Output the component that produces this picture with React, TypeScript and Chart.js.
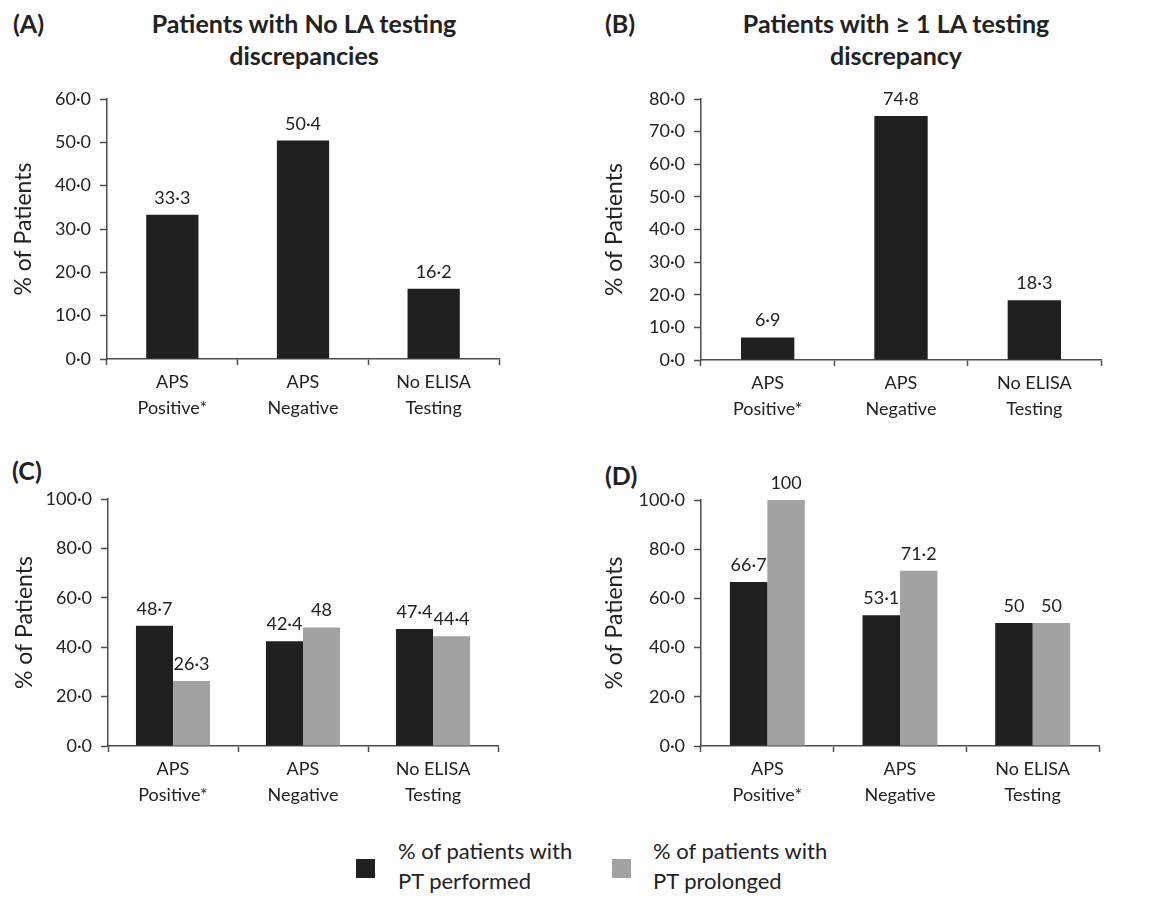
import React, { useEffect, useRef } from "react";
import { Chart, registerables } from "chart.js";

Chart.register(...registerables);

// ---------- data ----------
const categories: string[][] = [
  ["APS", "Positive*"],
  ["APS", "Negative"],
  ["No ELISA", "Testing"],
];
const panelAValues = [33.3, 50.4, 16.2];
const panelBValues = [6.9, 74.8, 18.3];
const panelCPerformed = [48.7, 42.4, 47.4];
const panelCProlonged = [26.3, 48, 44.4];
const panelDPerformed = [66.7, 53.1, 50];
const panelDProlonged = [100, 71.2, 50];
const seriesNames = ["% of patients with PT performed", "% of patients with PT prolonged"];
const legendLines = [
  ["% of patients with", "PT performed"],
  ["% of patients with", "PT prolonged"],
];
const titleA = ["Patients with No LA testing", "discrepancies"];
const titleB = ["Patients with \u2265 1 LA testing", "discrepancy"];
const yTitle = "% of Patients";
const yMaxA = 60, yStepA = 10;
const yMaxB = 80, yStepB = 10;
const yMaxCD = 100, yStepCD = 20;

// ---------- styles ----------
const FONT = "Lato, 'Open Sans', 'DejaVu Sans', sans-serif";
const TEXT = "#222222";
const AXIS = "#4d4d4d";
const BLACK = "#202020";
const GRAY = "#a2a2a2";
const Y_TITLE_SIZE = 23;

const tickText = (v: number) => v.toFixed(1).replace(".", "\u00b7");
const valueText = (v: number) => (Number.isInteger(v) ? String(v) : v.toFixed(1).replace(".", "\u00b7"));

const valueLabels = {
  id: "valueLabels",
  afterDatasetsDraw(chart: any) {
    const ctx = chart.ctx;
    ctx.save();
    ctx.font = `18px ${FONT}`;
    ctx.fillStyle = TEXT;
    ctx.textAlign = "center";
    ctx.textBaseline = "alphabetic";
    chart.data.datasets.forEach((ds: any, i: number) => {
      const meta = chart.getDatasetMeta(i);
      meta.data.forEach((el: any, j: number) => {
        ctx.fillText(valueText(ds.data[j] as number), el.x, el.y - 11);
      });
    });
    ctx.restore();
  },
};

type Box = { left: number; top: number; right: number; bottom: number };
type DS = { label: string; data: number[]; color: string };

const Y_W = 100;
const PAD_TOP = 30;
const PAD_RIGHT = 12;
const X_H = 72;

function Panel(props: { box: Box; datasets: DS[]; yMax: number; yStep: number; yTitleX: number; catPct: number }) {
  const ref = useRef<HTMLCanvasElement | null>(null);
  const { box, datasets, yMax, yStep, yTitleX, catPct } = props;
  const cLeft = box.left - Y_W;
  const cTop = box.top - PAD_TOP;
  const cW = box.right + PAD_RIGHT - cLeft;
  const cH = box.bottom + X_H - cTop;
  const titlePad = Math.max(0, yTitleX - cLeft - (Y_TITLE_SIZE * 1.2) / 2);

  useEffect(() => {
    if (!ref.current) return;
    const chart = new Chart(ref.current, {
      type: "bar",
      data: {
        labels: categories,
        datasets: datasets.map((d) => ({
          label: d.label,
          data: d.data,
          backgroundColor: d.color,
          borderWidth: 0,
          categoryPercentage: catPct,
          barPercentage: 1,
        })),
      },
      options: {
        animation: false,
        responsive: false,
        devicePixelRatio: 1,
        layout: { padding: { top: PAD_TOP, right: PAD_RIGHT, left: 0, bottom: 0 } },
        plugins: { legend: { display: false }, tooltip: { enabled: false }, title: { display: false } },
        scales: {
          x: {
            offset: true,
            grid: {
              display: true,
              offset: true,
              drawOnChartArea: false,
              drawTicks: true,
              tickLength: 6,
              tickColor: AXIS,
              tickWidth: 1.5,
            },
            border: { display: true, color: AXIS, width: 1.5 },
            ticks: {
              color: TEXT,
              font: { family: FONT, size: 18, lineHeight: 1.45 },
              padding: 4,
              maxRotation: 0,
              autoSkip: false,
            },
            afterFit: (s: any) => {
              s.height = X_H;
            },
          },
          y: {
            min: 0,
            max: yMax,
            grid: {
              display: true,
              drawOnChartArea: false,
              drawTicks: true,
              tickLength: 7,
              tickColor: AXIS,
              tickWidth: 1.5,
            },
            border: { display: true, color: AXIS, width: 1.5 },
            ticks: {
              stepSize: yStep,
              color: TEXT,
              font: { family: FONT, size: 18 },
              padding: 9,
              callback: (v: any) => tickText(Number(v)),
            },
            title: {
              display: true,
              text: yTitle,
              color: TEXT,
              font: { family: FONT, size: Y_TITLE_SIZE, lineHeight: 1.2 },
              padding: { top: titlePad, bottom: 0 },
            },
            afterFit: (s: any) => {
              s.width = Y_W;
            },
          },
        },
      },
      plugins: [valueLabels],
    } as any);
    return () => chart.destroy();
  }, []);

  return (
    <canvas
      ref={ref}
      width={cW}
      height={cH}
      style={{ position: "absolute", left: cLeft, top: cTop, width: cW, height: cH }}
    />
  );
}

const letterStyle = (left: number, top: number): React.CSSProperties => ({
  position: "absolute",
  left,
  top,
  font: `bold 25px ${FONT}`,
  lineHeight: "30px",
  color: TEXT,
  whiteSpace: "nowrap",
});

const titleStyle = (center: number): React.CSSProperties => ({
  position: "absolute",
  left: center - 260,
  width: 520,
  top: 7,
  textAlign: "center",
  font: `bold 25px ${FONT}`,
  lineHeight: "32px",
  color: TEXT,
});

const legendText = (left: number): React.CSSProperties => ({
  position: "absolute",
  left,
  top: 836,
  font: `22px ${FONT}`,
  lineHeight: "30px",
  color: TEXT,
  whiteSpace: "nowrap",
});

export default function App() {
  return (
    <div style={{ position: "absolute", left: 0, top: 0, width: 1158, height: 897, background: "#fff", overflow: "hidden" }}>
      <div style={letterStyle(13, 8)}>(A)</div>
      <div style={titleStyle(304)}>
        {titleA[0]}
        <br />
        {titleA[1]}
      </div>
      <div style={letterStyle(605, 8)}>(B)</div>
      <div style={titleStyle(896)}>
        {titleB[0]}
        <br />
        {titleB[1]}
      </div>
      <div style={letterStyle(12, 455)}>(C)</div>
      <div style={letterStyle(605, 460)}>(D)</div>

      <Panel
        box={{ left: 107, top: 99, right: 499, bottom: 359 }}
        datasets={[{ label: seriesNames[0], data: panelAValues, color: BLACK }]}
        yMax={yMaxA}
        yStep={yStepA}
        yTitleX={24}
        catPct={0.4}
      />
      <Panel
        box={{ left: 701, top: 99, right: 1101, bottom: 360 }}
        datasets={[{ label: seriesNames[0], data: panelBValues, color: BLACK }]}
        yMax={yMaxB}
        yStep={yStepB}
        yTitleX={615}
        catPct={0.4}
      />
      <Panel
        box={{ left: 108, top: 499, right: 498, bottom: 746 }}
        datasets={[
          { label: seriesNames[0], data: panelCPerformed, color: BLACK },
          { label: seriesNames[1], data: panelCProlonged, color: GRAY },
        ]}
        yMax={yMaxCD}
        yStep={yStepCD}
        yTitleX={25}
        catPct={0.57}
      />
      <Panel
        box={{ left: 701, top: 500, right: 1099, bottom: 746 }}
        datasets={[
          { label: seriesNames[0], data: panelDPerformed, color: BLACK },
          { label: seriesNames[1], data: panelDProlonged, color: GRAY },
        ]}
        yMax={yMaxCD}
        yStep={yStepCD}
        yTitleX={613}
        catPct={0.565}
      />

      {/* legend */}
      <div style={{ position: "absolute", left: 356, top: 859, width: 19, height: 19, background: BLACK }} />
      <div style={legendText(398)}>
        {legendLines[0][0]}
        <br />
        {legendLines[0][1]}
      </div>
      <div style={{ position: "absolute", left: 612, top: 859, width: 19, height: 19, background: GRAY }} />
      <div style={legendText(653)}>
        {legendLines[1][0]}
        <br />
        {legendLines[1][1]}
      </div>
    </div>
  );
}
